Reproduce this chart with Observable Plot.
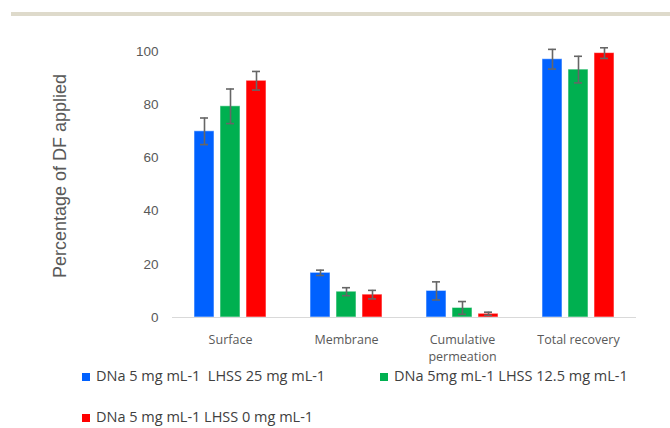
<!DOCTYPE html>
<html>
<head>
<meta charset="utf-8">
<script src="https://cdn.jsdelivr.net/npm/d3@7"></script>
<script src="https://cdn.jsdelivr.net/npm/@observablehq/plot@0.6"></script>
<style>
  html, body { margin: 0; padding: 0; background: #fff; }
  #wrap { position: relative; width: 670px; height: 428px; overflow: hidden; }
  #topbar { position: absolute; left: 11px; top: 12px; width: 659px; height: 4px; background: #dedacb; }
  #chart { position: absolute; left: 0; top: 0; }
  #ytitle { position: absolute; left: 60px; top: 176px; transform: translate(-50%, -50%) rotate(-90deg); white-space: nowrap;
            font-family: "Liberation Sans", Arial, sans-serif; font-size: 18px; color: #595959; }
  .leg { position: absolute; font-family: "Open Sans", sans-serif; font-size: 14.5px; color: #404040; white-space: pre; line-height: 16px; }
  .sw { display: inline-block; width: 8px; height: 8px; margin-right: 6px; vertical-align: 0px; }
</style>
</head>
<body>
<div id="wrap">
  <div id="topbar"></div>
  <div id="chart"></div>
  <div id="ytitle"></div>
  <div id="legend"></div>
</div>
<script>
const categories = ["Surface", "Membrane", "Cumulative permeation", "Total recovery"];
const seriesNames = [
  "DNa 5 mg mL-1  LHSS 25 mg mL-1",
  "DNa 5mg mL-1 LHSS 12.5 mg mL-1",
  "DNa 5 mg mL-1 LHSS 0 mg mL-1"
];
const seriesColors = ["#0061FF", "#00B050", "#FF0000"];
const blueValues = [70, 16.8, 10, 97.1];
const blueErrors = [5, 1, 3.4, 3.7];
const greenValues = [79.4, 9.7, 3.6, 93.2];
const greenErrors = [6.5, 1.5, 2.4, 5];
const redValues = [89, 8.6, 1.4, 99.4];
const redErrors = [3.5, 1.6, 0.6, 2];
const yTicks = [0, 20, 40, 60, 80, 100];
const yLabel = "Percentage of DF applied";

const valueSets = [blueValues, greenValues, redValues];
const errorSets = [blueErrors, greenErrors, redErrors];
const data = [];
categories.forEach((c, i) => {
  seriesNames.forEach((s, j) => {
    data.push({category: c, series: s, value: valueSets[j][i], err: errorSets[j][i]});
  });
});

const chart = Plot.plot({
  width: 670,
  height: 368,
  marginTop: 51,
  marginBottom: 51,
  marginLeft: 172,
  marginRight: 34,
  style: {fontFamily: "'Liberation Sans', Arial, sans-serif", background: "transparent"},
  fx: {domain: categories, padding: 0, label: null},
  x: {domain: seriesNames, paddingInner: 0.2308, paddingOuter: 0.846, axis: null},
  y: {domain: [0, 100], label: null},
  color: {domain: seriesNames, range: seriesColors},
  marks: [
    Plot.axisY({ticks: yTicks, tickSize: 0, tickPadding: 14, fontSize: 13.5, fill: "#595959", label: null}),
    Plot.axisFx({anchor: "bottom", tickSize: 0, tickPadding: 15, label: null, fontSize: 12.5,
      lineHeight: 1.35,
      fontFamily: "'Open Sans', sans-serif", fill: "#595959",
      tickFormat: d => d === "Cumulative permeation" ? "Cumulative\npermeation" : d}),
    Plot.barY(data, {fx: "category", x: "series", y: "value", fill: "series", stroke: "white", strokeOpacity: 0.55, strokeWidth: 1}),
    Plot.ruleY([0], {stroke: "#d9d9d9", strokeWidth: 1.2}),
    Plot.ruleX(data, {fx: "category", x: "series", y1: d => d.value - d.err, y2: d => d.value + d.err, stroke: "#666", strokeWidth: 1.6}),
    Plot.tickY(data, {fx: "category", x: "series", y: d => d.value + d.err, stroke: "#666", strokeWidth: 1.6, insetLeft: 6, insetRight: 6}),
    Plot.tickY(data, {fx: "category", x: "series", y: d => d.value - d.err, stroke: "#666", strokeWidth: 1.6, insetLeft: 6, insetRight: 6})
  ]
});
document.getElementById("chart").appendChild(chart);
document.getElementById("ytitle").textContent = yLabel;

const legendPos = [[82, 368], [380, 368], [82, 409]];
const legend = document.getElementById("legend");
seriesNames.forEach((s, i) => {
  const el = document.createElement("div");
  el.className = "leg";
  el.style.left = legendPos[i][0] + "px";
  el.style.top = legendPos[i][1] + "px";
  const sw = document.createElement("span");
  sw.className = "sw";
  sw.style.background = seriesColors[i];
  el.appendChild(sw);
  el.appendChild(document.createTextNode(s));
  legend.appendChild(el);
});
</script>
</body>
</html>
